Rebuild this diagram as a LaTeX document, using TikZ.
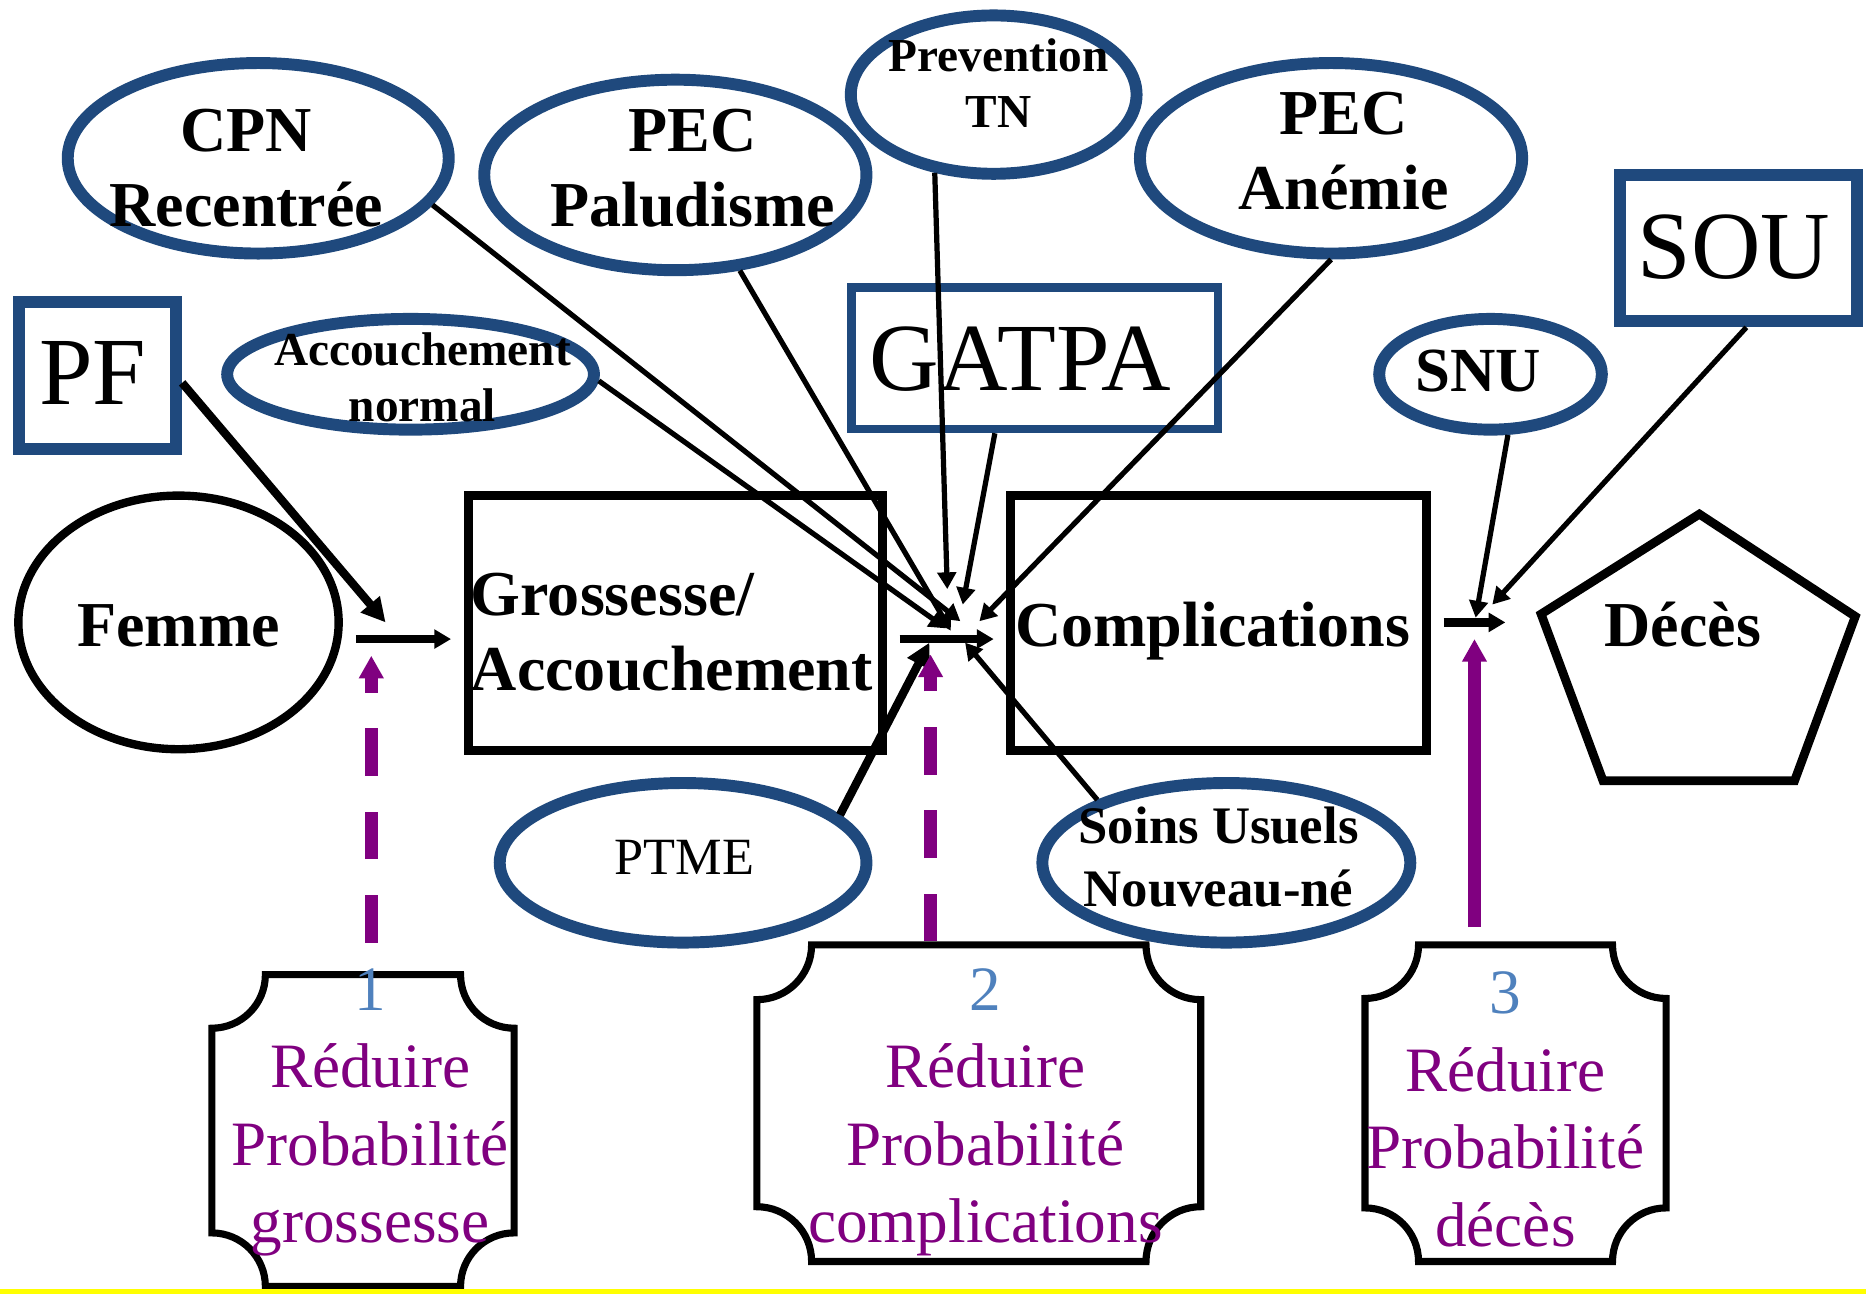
\documentclass[tikz,border=0pt]{standalone}
\usepackage{fontspec}
\setmainfont{Liberation Serif}
\usetikzlibrary{arrows.meta,shapes.geometric}

\definecolor{frameblue}{RGB}{31,73,125}
\definecolor{goalpurple}{RGB}{128,0,128}
\definecolor{numblue}{RGB}{79,129,189}
\definecolor{rulegold}{RGB}{255,255,0}

% frame with concave (notched) corners: x0 y0 x1 y1 r
\newcommand\notchedframe[5]{%
  \draw[notch] ({#1+#5},#2) -- ({#3-#5},#2)
    .. controls ({#3-#5},{#2+0.5523*#5}) and ({#3-0.5523*#5},{#2+#5}) .. (#3,{#2+#5})
    -- (#3,{#4-#5})
    .. controls ({#3-0.5523*#5},{#4-#5}) and ({#3-#5},{#4-0.5523*#5}) .. ({#3-#5},#4)
    -- ({#1+#5},#4)
    .. controls ({#1+#5},{#4-0.5523*#5}) and ({#1+0.5523*#5},{#4-#5}) .. (#1,{#4-#5})
    -- (#1,{#2+#5})
    .. controls ({#1+0.5523*#5},{#2+#5}) and ({#1+#5},{#2+0.5523*#5}) .. cycle;}

\begin{document}
\begin{tikzpicture}[x=0.01cm,y=-0.01cm,
  blueoval/.style={ellipse, draw=frameblue, line width=2.85pt, inner sep=0pt},
  bluebox/.style={rectangle, draw=frameblue, line width=2.85pt, inner sep=0pt},
  thinblue/.style={rectangle, draw=frameblue, line width=2pt, inner sep=0pt},
  blackoval/.style={ellipse, draw=black, line width=2pt, inner sep=0pt},
  blackbox/.style={rectangle, draw=black, line width=2.1pt, inner sep=0pt},
  notch/.style={draw=black, line width=1.7pt},
  lbl/.style={inner sep=0pt, anchor=base},
  bigbold/.style={font=\fontsize{15.3}{18}\selectfont\bfseries},
  smallbold/.style={font=\fontsize{11.3}{13.5}\selectfont\bfseries},
  midbold/.style={font=\fontsize{12.6}{15.1}\selectfont\bfseries},
  huge/.style={font=\fontsize{23}{27}\selectfont},
  goal/.style={font=\fontsize{15.1}{18.5}\selectfont, text=goalpurple},
  feed/.style={line width=1.25pt, -{Triangle[length=4pt,width=4.4pt]}},
  strongfeed/.style={line width=2pt, -{Triangle[length=5.7pt,width=5.7pt]}},
  flow/.style={line width=2pt, -{Triangle[length=4pt,width=4.4pt]}},
  lever/.style={goalpurple, line width=3.1pt, -{Triangle[length=5.4pt,width=5.6pt]}},
]
\fill[white] (0,0) rectangle (1568,1087);
\useasboundingbox (0,0) rectangle (1568,1087);

% ---------- interventions (top) ----------
\node[blueoval, minimum width=3.20cm, minimum height=1.60cm] (cpn) at (217,133) {};
\node[lbl, bigbold] (cpntxt) at (207,127) {\begin{tabular}[t]{@{}c@{}}CPN\\Recentrée\end{tabular}};

\node[blueoval, minimum width=3.21cm, minimum height=1.60cm] (palu) at (567.5,147) {};
\node[lbl, bigbold] (palutxt) at (582,127) {\begin{tabular}[t]{@{}c@{}}PEC\\Paludisme\end{tabular}};

\node[blueoval, minimum width=2.40cm, minimum height=1.33cm] (prev) at (835,79.5) {};
\node[lbl, smallbold] (prevtxt) at (839,60) {\begin{tabular}[t]{@{}c@{}}Prevention\\TN\end{tabular}};

\node[blueoval, minimum width=3.21cm, minimum height=1.60cm] (anem) at (1118.5,133) {};
\node[lbl, bigbold] (anemtxt) at (1129,113) {\begin{tabular}[t]{@{}c@{}}PEC\\Anémie\end{tabular}};

\node[bluebox, minimum width=1.99cm, minimum height=1.23cm] (sou) at (1460.5,208.5) {};
\node[lbl, huge] (soutxt) at (1457,234) {SOU};

\node[thinblue, minimum width=3.08cm, minimum height=1.19cm] (gatpa) at (869.5,301) {};
\node[lbl, huge] (gatpatxt) at (857,328) {GATPA};

\node[blueoval, minimum width=1.87cm, minimum height=0.93cm] (snu) at (1252.5,314.5) {};
\node[lbl, font=\fontsize{15}{18}\selectfont\bfseries] (snutxt) at (1242,329) {SNU};

\node[bluebox, minimum width=1.32cm, minimum height=1.23cm] (pf) at (82,315.5) {};
\node[lbl, huge] (pftxt) at (78,340) {PF};

\node[blueoval, minimum width=3.08cm, minimum height=0.93cm] (acc) at (345,314.5) {};
\node[lbl, smallbold] (acctxt) at (355,307) {\begin{tabular}[t]{@{}c@{}}Accouchement\\normal\end{tabular}};

% ---------- main chain ----------
\node[blackoval, minimum width=2.69cm, minimum height=2.13cm] (femme) at (150,523) {};
\node[lbl, bigbold] (femmetxt) at (150,543) {Femme};

\node[blackbox, minimum width=3.48cm, minimum height=2.14cm] (gross) at (567.5,523.5) {};
\node[lbl, bigbold, anchor=base west] (grosstxt) at (395,517) {\begin{tabular}[t]{@{}l@{}}Grossesse/\\Accouchement\end{tabular}};

\node[blackbox, minimum width=3.49cm, minimum height=2.14cm] (compl) at (1024,523.5) {};
\node[lbl, bigbold] (compltxt) at (1019,543) {Complications};

\coordinate (d1) at (1428,432);
\coordinate (d2) at (1559,518);
\coordinate (d3) at (1508,656);
\coordinate (d4) at (1347,656);
\coordinate (d5) at (1295,516);
\draw[line width=2.1pt] (d1) -- (d2) -- (d3) -- (d4) -- (d5) -- cycle;
\node[lbl, bigbold] (deces) at (1414,543) {Décès};

% ---------- interventions (bottom) ----------
\node[blueoval, minimum width=3.08cm, minimum height=1.34cm] (ptme) at (574,725) {};
\node[lbl, font=\fontsize{12.5}{15}\selectfont] (ptmetxt) at (575,735) {PTME};

\node[blueoval, minimum width=3.09cm, minimum height=1.34cm] (soins) at (1030.5,725) {};
\node[lbl, midbold] (soinstxt) at (1024,709) {\begin{tabular}[t]{@{}c@{}}Soins Usuels\\Nouveau-né\end{tabular}};

% ---------- goals ----------
\notchedframe{178}{819}{432}{1081}{45}
\notchedframe{636}{794}{1009}{1060}{46}
\notchedframe{1147}{794}{1400}{1060}{45}
\node[lbl, goal] (goal1) at (311,849) {\begin{tabular}[t]{@{}c@{}}{\color{numblue}1}\\Réduire\\Probabilité\\grossesse\end{tabular}};
\node[lbl, goal] (goal2) at (828,849) {\begin{tabular}[t]{@{}c@{}}{\color{numblue}2}\\Réduire\\Probabilité\\complications\end{tabular}};
\node[lbl, goal] (goal3) at (1265,852) {\begin{tabular}[t]{@{}c@{}}{\color{numblue}3}\\Réduire\\Probabilité\\décès\end{tabular}};

% ---------- junction points ----------
\coordinate (f1a) at (299,537);  \coordinate (f1b) at (379,537);
\coordinate (f2a) at (756,537);  \coordinate (f2b) at (835,537);
\coordinate (f3a) at (1213,523); \coordinate (f3b) at (1265,523);
\coordinate (tpf) at (324,523);
\coordinate (tcpn) at (807,522);
\coordinate (tacc) at (795,528);
\coordinate (tpalu) at (799,530);
\coordinate (tprev) at (796,495);
\coordinate (tgat) at (809,508);
\coordinate (tanem) at (823,522);
\coordinate (tptme) at (781,540);
\coordinate (tsoins) at (811,540);
\coordinate (tsnu) at (1240,519);
\coordinate (tsou) at (1254,508);
\coordinate (p1a) at (312,792);  \coordinate (p1b) at (312,551);
\coordinate (p2a) at (782,791);  \coordinate (p2b) at (782,550);
\coordinate (p3a) at (1239,779); \coordinate (p3b) at (1239,537);

% chain arrows
\draw[flow] (f1a) -- (f1b);
\draw[flow] (f2a) -- (f2b);
\draw[flow] (f3a) -- (f3b);

% intervention arrows
\draw[strongfeed] (pf.-5) -- (tpf);
\draw[feed] (cpn.-15.3) -- (tcpn);
\draw[feed] (acc.-2.5) -- (tacc);
\draw[feed] (palu.-56.1) -- (tpalu);
\draw[feed] (prev.-127.1) -- (tprev);
\draw[feed] (gatpa.-118.4) -- (tgat);
\draw[feed] (anem.south) -- (tanem);
\draw[strongfeed] (ptme.17.2) -- (tptme);
\draw[feed] (soins.154.6) -- (tsoins);
\draw[feed] (snu.-74.4) -- (tsnu);
\draw[feed] (sou.-84.2) -- (tsou);

% goal levers
\draw[lever, dash pattern=on 11.4pt off 8.5pt] (p1a) -- (p1b);
\draw[lever, dash pattern=on 11.4pt off 8.5pt] (p2a) -- (p2b);
\draw[lever] (p3a) -- (p3b);

% bottom rule
\fill[rulegold] (0,1083) rectangle (1568,1087);
\end{tikzpicture}
\end{document}
